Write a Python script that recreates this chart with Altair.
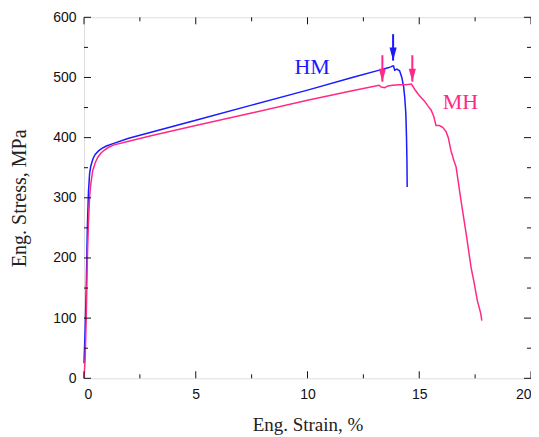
import altair as alt
import pandas as pd

# ---- data ----
hm_strain = [0, 0.05, 0.1, 0.15, 0.2, 0.25, 0.3, 0.4, 0.5, 0.65, 0.8, 1.0, 1.3, 2, 3, 5, 7.5, 10, 12,
             13.3, 13.6, 13.75, 13.8, 13.85, 13.9, 14.0, 14.12, 14.22, 14.3, 14.35, 14.4, 14.43, 14.45, 14.46]
hm_stress = [25, 80, 150, 250, 310, 340, 352, 365, 372, 378, 382, 386, 390, 399, 409, 429, 454, 479, 500,
             513, 516, 518, 519, 519, 512, 514, 511, 500, 485, 467, 440, 400, 360, 318]

mh_strain = [0, 0.05, 0.1, 0.15, 0.2, 0.25, 0.3, 0.39, 0.5, 0.61, 0.75, 0.9, 1.1, 1.35, 2, 3, 5, 7.5, 10, 12,
             13.2, 13.3, 13.45, 13.6, 13.8, 14.1, 14.4, 14.65, 14.72, 14.8, 14.94, 15.1, 15.23, 15.4, 15.53,
             15.65, 15.75, 15.9, 16.05, 16.2, 16.3, 16.42, 16.55, 16.65, 16.85, 17.1, 17.32, 17.45, 17.6, 17.75, 17.8]
mh_stress = [0, 30, 100, 200, 260, 300, 322, 345, 358, 367, 374, 379, 384, 388, 394, 403, 420, 441, 462, 478,
             487, 484, 483, 486, 487, 488, 488, 489, 485, 480, 473, 466, 461, 452, 446,
             435, 420, 420, 417, 410, 400, 378, 362, 351, 300, 240, 184, 160, 129, 108, 96]

arrow_series = ["HM", "MH", "MH"]
arrow_strain = [13.83, 13.35, 14.69]
arrow_top = [572, 537, 537]
arrow_tip = [528, 493, 493]

label_text = ["HM", "MH"]
label_strain = [10.21, 16.84]
label_stress = [518, 459]

x_major = [0, 5, 10, 15, 20]
x_minor = [2.5, 7.5, 12.5, 17.5]
y_major = [0, 100, 200, 300, 400, 500, 600]
y_minor = [50, 150, 250, 350, 450, 550]

BLUE = "#1a1aff"
PINK = "#ff2a85"
W, H = 447, 361

# ---- tables ----
curves = pd.concat([
    pd.DataFrame({"strain": hm_strain, "stress": hm_stress, "series": "HM", "order": range(len(hm_strain))}),
    pd.DataFrame({"strain": mh_strain, "stress": mh_stress, "series": "MH", "order": range(len(mh_strain))}),
])
arrows = pd.DataFrame({"series": arrow_series, "strain": arrow_strain, "top": arrow_top, "tip": arrow_tip})
labels = pd.DataFrame({"series": label_text, "strain": label_strain, "stress": label_stress})

xs = alt.Scale(domain=[0, 20], nice=False)
ys = alt.Scale(domain=[0, 600], nice=False)
color = alt.Color("series:N", scale=alt.Scale(domain=["HM", "MH"], range=[BLUE, PINK]), legend=None)

x_axis = alt.Axis(values=x_major, ticks=False, domain=False, grid=False, labelPadding=9,
                  labelFont="Liberation Sans", labelFontSize=14, labelColor="#111",
                  title="Eng. Strain, %", titleFont="Liberation Serif", titleFontSize=19,
                  titleFontWeight="normal", titleColor="#222", titleY=46, titleBaseline="middle")
y_axis = alt.Axis(values=y_major, ticks=False, domain=False, grid=False, labelPadding=8,
                  labelFont="Liberation Sans", labelFontSize=14, labelColor="#111",
                  title="Eng. Stress, MPa", titleFont="Liberation Serif", titleFontSize=20,
                  titleFontWeight="normal", titleColor="#222", titleX=-65, titleY=H / 2,
                  titleAlign="center", titleBaseline="middle", titleAngle=-90)

lines = alt.Chart(curves).mark_line(strokeWidth=1.5).encode(
    x=alt.X("strain:Q", scale=xs, axis=x_axis),
    y=alt.Y("stress:Q", scale=ys, axis=y_axis),
    color=color,
    order="order:Q",
    detail="series:N",
)

shafts = alt.Chart(arrows).mark_rule(strokeWidth=2).encode(
    x=alt.X("strain:Q", scale=xs), y=alt.Y("top:Q", scale=ys), y2="tip:Q", color=color)
heads = alt.Chart(arrows).mark_point(shape="M-0.55,-1L0.55,-1L0,1Z", filled=True, size=169,
                                     opacity=1, yOffset=-6.5).encode(
    x=alt.X("strain:Q", scale=xs), y=alt.Y("tip:Q", scale=ys), color=color)

texts = alt.Chart(labels).mark_text(font="Liberation Serif", fontSize=22, align="center",
                                    baseline="middle").encode(
    x=alt.X("strain:Q", scale=xs), y=alt.Y("stress:Q", scale=ys), text="series:N", color=color)

# inward ticks on all four sides
xmaj = pd.DataFrame({"v": x_major})
xmin = pd.DataFrame({"v": x_minor})
ymaj = pd.DataFrame({"v": y_major})
ymin = pd.DataFrame({"v": y_minor})

def xticks(df, length):
    b = alt.Chart(df).mark_rule(color="#111", strokeWidth=1).encode(
        x=alt.X("v:Q", scale=xs), y=alt.value(H), y2=alt.value(H - length))
    t = alt.Chart(df).mark_rule(color="#111", strokeWidth=1).encode(
        x=alt.X("v:Q", scale=xs), y=alt.value(0), y2=alt.value(length))
    return [b, t]

def yticks(df, length):
    l = alt.Chart(df).mark_rule(color="#111", strokeWidth=1).encode(
        y=alt.Y("v:Q", scale=ys), x=alt.value(0), x2=alt.value(length))
    r = alt.Chart(df).mark_rule(color="#111", strokeWidth=1).encode(
        y=alt.Y("v:Q", scale=ys), x=alt.value(W), x2=alt.value(W - length))
    return [l, r]

tick_layers = xticks(xmaj, 7) + xticks(xmin, 4) + yticks(ymaj, 7) + yticks(ymin, 4)

chart = alt.layer(lines, shafts, heads, texts, *tick_layers).properties(
    width=W, height=H,
    autosize=alt.AutoSizeParams(type="none"),
    padding={"left": 76, "top": 9.3, "right": 0, "bottom": 62},
).configure_view(stroke="#111", strokeWidth=1.3).configure(background="white")

chart.save("out.html", embed_options={"renderer": "svg", "actions": False})
